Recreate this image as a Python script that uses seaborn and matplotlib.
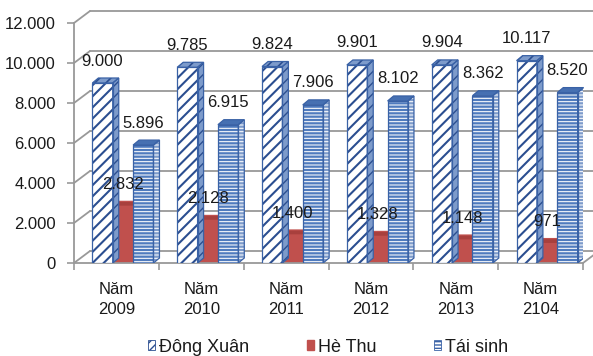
import numpy as np
import pandas as pd
import seaborn as sns
import matplotlib as mpl
import matplotlib.pyplot as plt
from matplotlib.patches import Polygon, Rectangle, Patch

# ---- data -------------------------------------------------------------
years = ["Năm\n2009", "Năm\n2010", "Năm\n2011", "Năm\n2012", "Năm\n2013", "Năm\n2104"]
series = ["Đông Xuân", "Hè Thu", "Tái sinh"]
dong_xuan = [9000, 9785, 9824, 9901, 9904, 10117]
he_thu = [2832, 2128, 1400, 1328, 1148, 971]
tai_sinh = [5896, 6915, 7906, 8102, 8362, 8520]
y_ticks = [0, 2000, 4000, 6000, 8000, 10000, 12000]

df = pd.DataFrame({
    "year": years * 3,
    "series": [series[0]] * 6 + [series[1]] * 6 + [series[2]] * 6,
    "value": dong_xuan + he_thu + tai_sinh,
})

# ---- style ------------------------------------------------------------
sns.set_theme(style="white")
plt.rcParams["font.family"] = ["Liberation Sans", "DejaVu Sans"]

NAVY = "#2B4E90"
BLUE_EDGE = "#3A62A6"
BLUE_FILL = "#4F7BBE"
BLUE_SIDE = "#7D9BCB"
BLUE_TOP = "#4670B2"
RED = "#C0504D"
RED_TOP = "#A8403D"
RED_SIDE = "#93332F"
GRID = "#999999"
TEXT = "#1A1A1A"


def hatch_lw(artist, lw):
    """Set the hatch line width of one artist when the API allows it."""
    if hasattr(artist, "set_hatch_linewidth"):
        artist.set_hatch_linewidth(lw)
    else:
        artist._hatch_linewidth = lw


W, H = 593, 356
fig = plt.figure(figsize=(W / 100, H / 100), dpi=100)
ax_l, ax_b, ax_w, ax_h = 74, 93, 509, 240
ax = fig.add_axes([ax_l / W, ax_b / H, ax_w / W, ax_h / H])

sns.barplot(data=df, x="year", y="value", hue="series", order=years,
            hue_order=series, width=0.72, palette=["white", RED, BLUE_FILL],
            ax=ax, legend=False, errorbar=None, saturation=1)

ax.set_xlim(-0.5, len(years) - 0.5)
ax.set_ylim(0, 12000)

px_x = ax_w / len(years)      # pixels per category
px_y = ax_h / 12000.0         # pixels per unit of value

# depth of the back wall and of each column (in data units)
wall_dx_ax = 16 / ax_w
wall_dy = 12 / px_y
bar_dx = 6 / px_x
bar_dy = 5 / px_y
shift = 6.5 / px_x

# ---- back wall, side wall and floor -----------------------------------
ytr = ax.get_yaxis_transform()
for v in y_ticks:
    ax.plot([wall_dx_ax, 1 + wall_dx_ax], [v + wall_dy, v + wall_dy], color=GRID,
            lw=1.3, transform=ytr, clip_on=False, zorder=0.5)
    ax.plot([0, wall_dx_ax], [v, v + wall_dy], color=GRID, lw=1.3,
            transform=ytr, clip_on=False, zorder=0.5)
ax.plot([1, 1 + wall_dx_ax], [0, wall_dy], color=GRID, lw=1.3,
        transform=ytr, clip_on=False, zorder=0.5)

# ---- 3D columns --------------------------------------------------------
# face: (fill, hatch, hatch colour, hatch width)
styles = {
    0: dict(front=("white", "///", NAVY, 1.5), top=(BLUE_SIDE, "///", NAVY, 1.2),
            side=(BLUE_SIDE, "///", NAVY, 1.0), edge=BLUE_EDGE, z=3),
    1: dict(front=(RED, None, RED, 1.0), top=(RED_TOP, None, RED_TOP, 1.0),
            side=(RED_SIDE, None, RED_SIDE, 1.0), edge=RED, z=2),
    2: dict(front=(BLUE_FILL, "-----", "white", 0.75), top=(BLUE_TOP, None, BLUE_TOP, 1.0),
            side=(BLUE_SIDE, "-----", "white", 0.75), edge=BLUE_EDGE, z=3),
}

for i, cont in enumerate(ax.containers):
    st = styles[i]
    edge = st["edge"]
    for patch in cont.patches:
        patch.set_x(patch.get_x() + shift)
        x0, w, h = patch.get_x(), patch.get_width(), patch.get_height()
        ff, fh, fc, fl = st["front"]
        patch.set_facecolor(ff)
        patch.set_edgecolor(fc)
        patch.set_linewidth(0)
        patch.set_hatch(fh)
        hatch_lw(patch, fl)
        patch.set_zorder(st["z"])
        ax.add_patch(Rectangle((x0, 0), w, h, fill=False, edgecolor=edge,
                               lw=0.9, zorder=st["z"] + 0.1))
        # right side face
        sf, sh, sc, sl = st["side"]
        side = Polygon([(x0 + w, 0), (x0 + w + bar_dx, bar_dy),
                        (x0 + w + bar_dx, h + bar_dy), (x0 + w, h)],
                       closed=True, facecolor=sf, edgecolor=sc, hatch=sh,
                       lw=0, zorder=st["z"] + 0.05)
        hatch_lw(side, sl)
        ax.add_patch(side)
        ax.add_patch(Polygon(side.get_xy(), closed=True, fill=False,
                             edgecolor=edge, lw=0.9, zorder=st["z"] + 0.1))
        # top face
        tf, th, tc, tl = st["top"]
        top = Polygon([(x0, h), (x0 + bar_dx, h + bar_dy),
                       (x0 + w + bar_dx, h + bar_dy), (x0 + w, h)],
                      closed=True, facecolor=tf, edgecolor=tc, hatch=th,
                      lw=0, zorder=st["z"] + 0.05, clip_on=False)
        hatch_lw(top, tl)
        ax.add_patch(top)
        ax.add_patch(Polygon(top.get_xy(), closed=True, fill=False,
                             edgecolor=edge, lw=0.9, zorder=st["z"] + 0.1,
                             clip_on=False))
        # value label
        label = f"{int(h):,}".replace(",", ".")
        ax.annotate(label, (x0 + w / 2, h), xytext=(0, 22 * 0.72),
                    textcoords="offset points", ha="center", va="center",
                    fontsize=12, color=TEXT, zorder=6)

# ---- axes ----------------------------------------------------------------
for s in ["top", "right"]:
    ax.spines[s].set_visible(False)
for s in ["left", "bottom"]:
    ax.spines[s].set_color(GRID)
    ax.spines[s].set_linewidth(1.3)

ax.set_yticks(y_ticks)
ax.set_yticklabels([f"{v:,}".replace(",", ".") for v in y_ticks])
ax.tick_params(axis="y", length=5, width=1.2, color=GRID, pad=8,
               labelsize=12, labelcolor=TEXT, left=True)
ax.set_xticks(range(len(years)))
ax.set_xticklabels(years, linespacing=1.35)
ax.tick_params(axis="x", length=0, pad=14, labelsize=12, labelcolor=TEXT)
ax.set_xticks(np.arange(-0.5, len(years)), minor=True)
ax.tick_params(axis="x", which="minor", length=5, width=1.2, color=GRID, bottom=True)
ax.set_xlabel("")
ax.set_ylabel("")
ax.grid(False)

# ---- legend ----------------------------------------------------------------
handles = [
    Patch(facecolor="white", edgecolor=NAVY, hatch="////", lw=0.6),
    Patch(facecolor=RED, edgecolor=RED),
    Patch(facecolor="white", edgecolor=BLUE_EDGE, hatch="-----", lw=0.6),
]
fig.legend(handles, series, loc="center", bbox_to_anchor=(0.553, 1 - 347 / H),
           ncol=3, frameon=False, fontsize=13, handlelength=0.4,
           handleheight=0.4, handletextpad=0.2, columnspacing=3.2,
           labelcolor=TEXT)

fig.savefig("out.png", dpi=100)
